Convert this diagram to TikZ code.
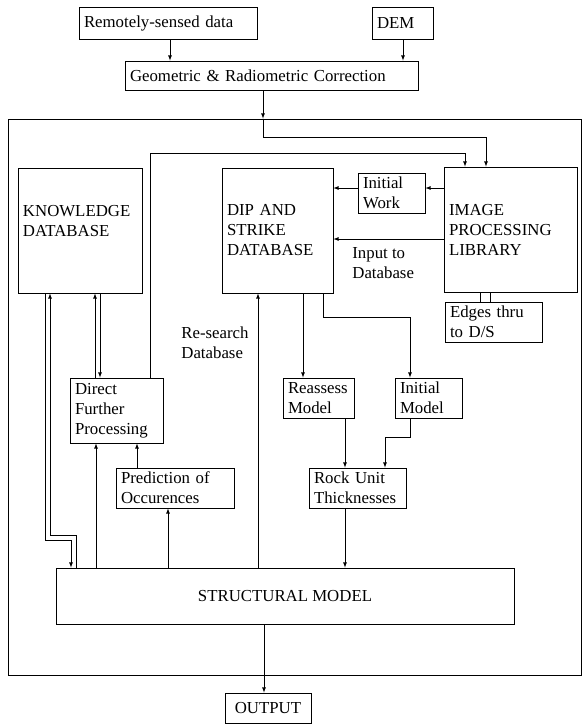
\documentclass[tikz,border=0pt]{standalone}
\usepackage{fontspec}
\setmainfont{Liberation Serif}
\usepackage{tikz}
\usetikzlibrary{shapes,positioning,arrows,calc}

\begin{document}
\begin{tikzpicture}[x=1pt,y=-1pt,
					line width=0.8pt,
					every node/.style={font=\fontsize{16.8}{20}\selectfont},
					box/.style={draw, rectangle, align=left, inner xsep=5pt, inner ysep=1pt},
					lbl/.style={align=left, inner sep=0pt},
					arr/.style={-latex}]
			\useasboundingbox (0,0) rectangle (584,724);
			% input boxes
			\node[box, text width=168, minimum height=32] (rsd) at (168,23) {Remotely-sensed data};
			\node[box, text width=51, minimum height=32] (dem) at (402.5,23) {DEM};
			\node[box, text width=283, minimum height=29] (geo) at (271.5,75.5) {Geometric \& Radiometric Correction};
			% the system
			\node[draw, minimum width=573, minimum height=556, inner sep=0pt] (frame) at (294.5,397) {};
			\node[box, text width=114, minimum height=125] (know) at (80,230.5) {KNOWLEDGE\\DATABASE\\~};
			\node[box, text width=101, minimum height=125] (dip) at (277.5,230.5) {DIP AND\\STRIKE\\DATABASE};
			\node[box, text width=57, minimum height=40] (initw) at (391.5,193) {Initial\\Work};
			\node[box, text width=123, minimum height=125] (image) at (510.5,229.5) {IMAGE\\PROCESSING\\LIBRARY};
			\node[box, text width=87, minimum height=40] (edges) at (493.5,322) {Edges thru\\to D/S};
			\node[box, text width=83, minimum height=65] (direct) at (116.5,410.5) {Direct\\Further\\Processing};
			\node[box, text width=61, minimum height=40] (reass) at (318.5,398) {Reassess\\Model};
			\node[box, text width=57, minimum height=40] (initm) at (428.5,398) {Initial\\Model};
			\node[box, text width=87, minimum height=40] (rock) at (357.5,488) {Rock Unit\\Thicknesses};
			\node[box, text width=108, minimum height=40] (pred) at (175,488) {Prediction of\\Occurences};
			\node[box, align=center, minimum width=458, minimum height=56] (struct) at (285,596) {STRUCTURAL MODEL};
			\node[box, align=center, minimum width=86, minimum height=30] (out) at (268,708) {OUTPUT};
			% labels
			\node[lbl, anchor=west] (inlbl) at (352,263) {Input to\\Database};
			\node[lbl, anchor=west] (relbl) at (181,343) {Re-search\\Database};

			% connectors
			\draw[arr] (rsd.south -| 170,0) -- (geo.north -| 170,0);
			\draw[arr] (dem.south -| 403,0) -- (geo.north -| 403,0);
			\draw[arr] (geo.south -| 263,0) -- (frame.north -| 263,0);
			\draw[arr] (frame.north -| 263,0) |- (486,137) -- (image.north -| 486,0);
			\draw[arr] (direct.north -| 150,0) |- (465,153) -- (image.north -| 465,0);
			\draw[arr] (image.west |- 0,188) -- (initw.east |- 0,188);
			\draw[arr] (initw.west |- 0,188) -- (dip.east |- 0,188);
			\draw[arr] (image.west |- 0,239) -- (dip.east |- 0,239);
			\draw (image.south -| 480,0) -- (edges.north -| 480,0);
			\draw (image.south -| 490,0) -- (edges.north -| 490,0);
			\draw[arr] (dip.south -| 303,0) -- (reass.north -| 303,0);
			\draw[arr] (dip.south -| 323,0) |- (410,317) -- (initm.north -| 410,0);
			\draw[arr] (reass.south -| 345,0) -- (rock.north -| 345,0);
			\draw[arr] (initm.south -| 410,0) |- (385,437) -- (rock.north -| 385,0);
			\draw[arr] (rock.south -| 345,0) -- (struct.north -| 345,0);
			\draw[arr] (struct.north -| 258,0) -- (dip.south -| 258,0);
			\draw[arr] (struct.north -| 168,0) -- (pred.south -| 168,0);
			\draw[arr] (pred.north -| 137,0) -- (direct.south -| 137,0);
			\draw[arr] (struct.north -| 96,0) -- (direct.south -| 96,0);
			\draw[arr] (know.south -| 100,0) -- (direct.north -| 100,0);
			\draw[arr] (direct.north -| 95,0) -- (know.south -| 95,0);
			\draw[arr] (know.south -| 45,0) |- (71,540) -- (struct.north -| 71,0);
			\draw[arr] (struct.north -| 76,0) |- (50,535) -- (know.south -| 50,0);
			\draw[arr] (struct.south -| 264,0) -- (out.north -| 264,0);
\end{tikzpicture}
\end{document}
